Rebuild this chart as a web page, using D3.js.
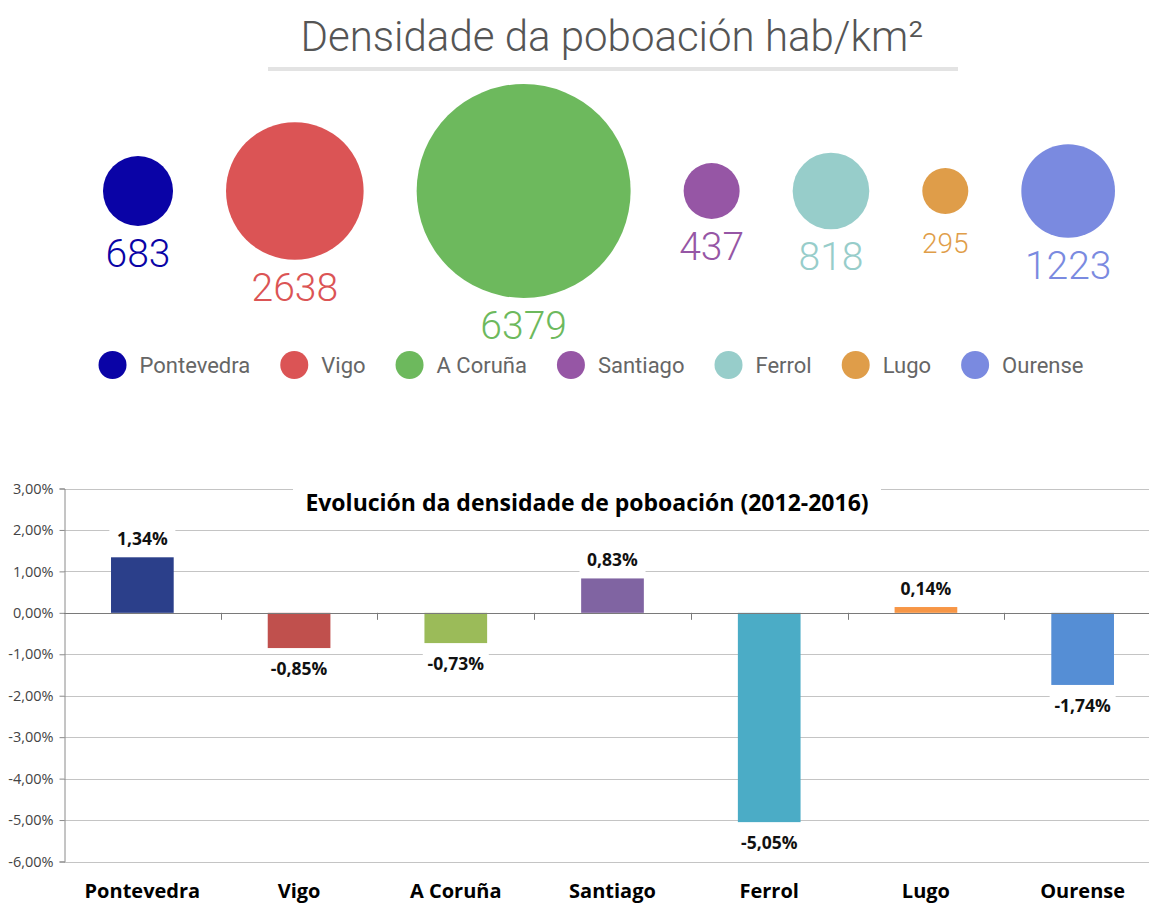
<!DOCTYPE html>
<html>
<head>
<meta charset="utf-8">
<script src="https://cdn.jsdelivr.net/npm/d3@7"></script>
<style>
  html, body { margin: 0; padding: 0; background: #fff; }
  svg { display: block; }
</style>
</head>
<body>
<svg id="chart" width="1149" height="904"></svg>
<script>
// ---------- DATA ----------
const cities = ["Pontevedra", "Vigo", "A Coruña", "Santiago", "Ferrol", "Lugo", "Ourense"];
const density = [683, 2638, 6379, 437, 818, 295, 1223];
const bubbleColors = ["#0a03a6", "#db5455", "#6db95d", "#9656a5", "#97cdca", "#df9d49", "#7a8ae0"];

const evolution = [1.34, -0.85, -0.73, 0.83, -5.05, 0.14, -1.74];
const barColors = ["#2b3f8a", "#c0504d", "#9bbb59", "#8064a2", "#4bacc6", "#f79646", "#558ed5"];
const yTicks = [3, 2, 1, 0, -1, -2, -3, -4, -5, -6];

const topTitle = "Densidade da poboación hab/km²";
const bottomTitle = "Evolución da densidade de poboación (2012-2016)";

// ---------- SETUP ----------
const svg = d3.select("#chart");
const loc = d3.formatLocale({decimal: ",", thousands: ".", grouping: [3], currency: ["", "€"], minus: "-"});
const pct2 = v => loc.format(".2f")(v) + "%";

// ---------- TOP: bubble chart ----------
svg.append("text")
  .attr("x", 612).attr("y", 51)
  .attr("text-anchor", "middle")
  .style("font-family", "Roboto, sans-serif")
  .style("font-weight", 300)
  .style("font-size", "42px")
  .style("fill", "#555")
  .text(topTitle);

svg.append("rect")
  .attr("x", 268).attr("y", 67).attr("width", 690).attr("height", 4)
  .attr("fill", "#e3e3e3");

const r = d3.scaleSqrt().domain([0, d3.max(density)]).range([0, 107]);
const gap = 53, cy = 191;
const totalW = d3.sum(density, d => 2 * r(d)) + gap * (density.length - 1);
let cx = 609 - totalW / 2;
const bubbles = density.map((d, i) => {
  const rr = r(d);
  const o = {name: cities[i], value: d, r: rr, x: cx + rr, color: bubbleColors[i]};
  cx += 2 * rr + gap;
  return o;
});

const bg = svg.append("g");
bg.selectAll("circle").data(bubbles).join("circle")
  .attr("cx", d => d.x).attr("cy", cy).attr("r", d => d.r)
  .attr("fill", d => d.color);

bg.selectAll("text").data(bubbles).join("text")
  .attr("x", d => d.x)
  .attr("y", d => cy + d.r + (d.value < 400 ? 39 : 41))
  .attr("text-anchor", "middle")
  .style("font-family", "Roboto, sans-serif")
  .style("font-weight", 300)
  .style("font-size", d => (d.value < 400 ? 28 : 39) + "px")
  .style("fill", d => d.color)
  .text(d => d.value);

// legend
const lg = svg.append("g");
const legendItems = lg.selectAll("g").data(bubbles).join("g");
legendItems.append("circle").attr("r", 14).attr("fill", d => d.color);
legendItems.append("text")
  .attr("x", 27).attr("y", 8)
  .style("font-family", "Roboto, sans-serif")
  .style("font-size", "22px")
  .style("fill", "#666")
  .text(d => d.name);
let lx = 0;
const legPos = [];
legendItems.each(function(d) {
  const w = d3.select(this).select("text").node().getComputedTextLength();
  legPos.push(lx);
  lx += 27 + w + 44;
});
const legendTotal = lx - 44 + 14;
const legStart = 591 - legendTotal / 2 + 14;
legendItems.attr("transform", (d, i) => `translate(${legStart + legPos[i]},365)`);

// ---------- BOTTOM: bar chart ----------
const y = d3.scaleLinear().domain([-6, 3]).range([861.5, 488.5]);
const x = d3.scaleBand().domain(cities).range([64, 1161]).paddingInner(0.6).paddingOuter(0.3);
const step = x.step();

const font2 = "'Open Sans', 'Liberation Sans', sans-serif";

// gridlines
svg.append("g")
  .selectAll("line").data(yTicks.filter(t => t !== 0)).join("line")
  .attr("x1", 64).attr("x2", 1161)
  .attr("y1", d => Math.round(y(d)) + 0.5).attr("y2", d => Math.round(y(d)) + 0.5)
  .attr("stroke", "#c4c4c4").attr("stroke-width", 1);

// y axis
const yAxis = svg.append("g")
  .attr("transform", "translate(64.5,0)")
  .call(d3.axisLeft(y).tickValues(yTicks).tickSize(5).tickPadding(6).tickFormat(pct2));
yAxis.select(".domain").attr("stroke", "#8a8a8a");
yAxis.selectAll(".tick line").attr("stroke", "#8a8a8a");
yAxis.selectAll(".tick text")
  .style("font-family", font2).style("font-size", "14.5px").style("fill", "#444");

// bars
svg.append("g").selectAll("rect").data(evolution).join("rect")
  .attr("x", (d, i) => x(cities[i]))
  .attr("width", x.bandwidth())
  .attr("y", d => y(Math.max(0, d)))
  .attr("height", d => Math.abs(y(d) - y(0)))
  .attr("fill", (d, i) => barColors[i]);

// zero line + category separators
svg.append("line")
  .attr("x1", 64).attr("x2", 1161)
  .attr("y1", Math.round(y(0)) + 0.5).attr("y2", Math.round(y(0)) + 0.5)
  .attr("stroke", "#7a7a7a");
svg.append("g").selectAll("line").data(cities.slice(1)).join("line")
  .attr("x1", d => Math.round(x(d) + x.bandwidth() / 2 - step / 2) + 0.5)
  .attr("x2", d => Math.round(x(d) + x.bandwidth() / 2 - step / 2) + 0.5)
  .attr("y1", y(0)).attr("y2", y(0) + 7)
  .attr("stroke", "#7a7a7a");

// value labels
const vl = svg.append("g").selectAll("g").data(evolution).join("g")
  .attr("transform", (d, i) => {
    const cxx = x(cities[i]) + x.bandwidth() / 2;
    const yy = d >= 0 ? y(d) - 12 : y(d) + 27;
    return `translate(${cxx},${yy})`;
  });
vl.append("rect")
  .attr("x", -33).attr("y", -18).attr("width", 66).attr("height", 24)
  .attr("fill", "#fff");
vl.append("text")
  .attr("text-anchor", "middle")
  .style("font-family", font2).style("font-weight", 700).style("font-size", "17.5px")
  .style("fill", "#111")
  .text(d => pct2(d));

// category labels
svg.append("g").selectAll("text").data(cities).join("text")
  .attr("x", d => x(d) + x.bandwidth() / 2)
  .attr("y", 898)
  .attr("text-anchor", "middle")
  .style("font-family", font2).style("font-weight", 700).style("font-size", "20px")
  .style("fill", "#000")
  .text(d => d);

// title with white background
svg.append("rect").attr("x", 293).attr("y", 482).attr("width", 588).attr("height", 40).attr("fill", "#fff");
svg.append("text")
  .attr("x", 587).attr("y", 511)
  .attr("text-anchor", "middle")
  .style("font-family", font2).style("font-weight", 700).style("font-size", "23px")
  .style("fill", "#000")
  .text(bottomTitle);
</script>
</body>
</html>
